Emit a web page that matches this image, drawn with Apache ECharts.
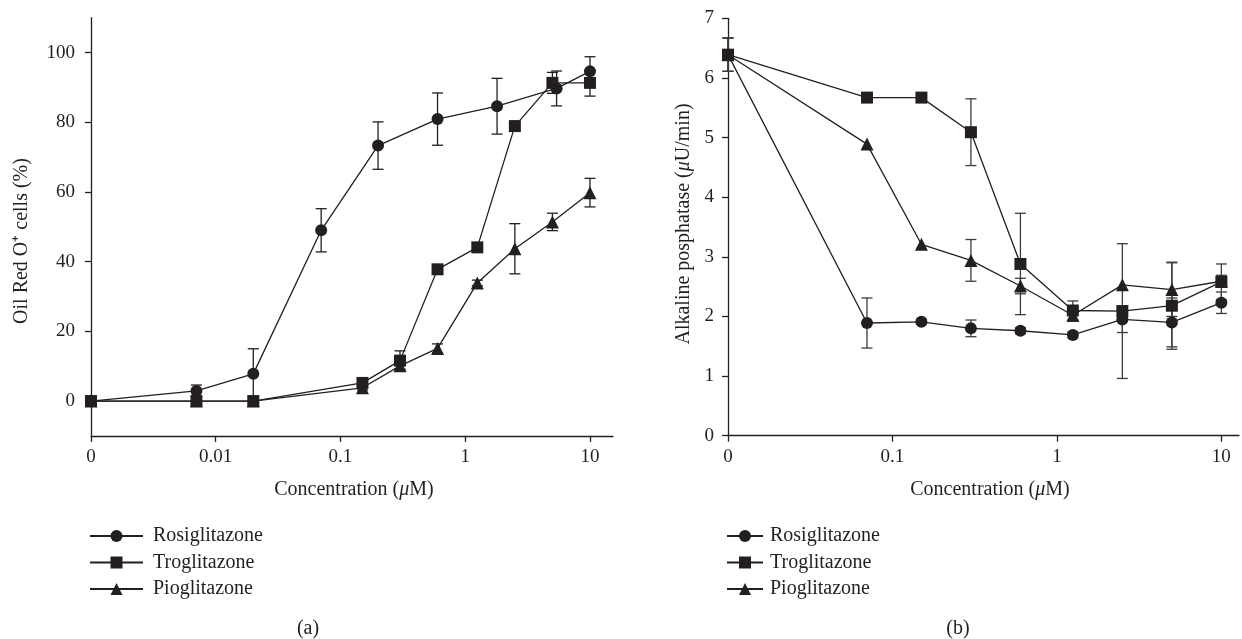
<!DOCTYPE html>
<html><head><meta charset="utf-8">
<script src="https://cdn.jsdelivr.net/npm/echarts@6/dist/echarts.min.js"></script>
<style>html,body{margin:0;padding:0;background:#fff}#c{width:1242px;height:639px}</style>
</head><body><div id="c"></div>
<script>
const drugs = ['Rosiglitazone', 'Troglitazone', 'Pioglitazone'];

// ---- Panel (a): Oil Red O+ cells (%) ----
const aRosiConc = [0, 0.007, 0.02, 0.07, 0.2, 0.6, 1.8, 5.4, 10];
const aRosiVal  = [0, 2.9, 7.8, 49, 73.3, 80.9, 84.6, 89.7, 94.6];
const aRosiErr  = [0, 1.7, 7.2, 6.2, 6.8, 7.5, 8.0, 5.0, 4.2];
const aTroConc  = [0, 0.007, 0.02, 0.15, 0.3, 0.6, 1.25, 2.5, 5, 10];
const aTroVal   = [0, 0, 0, 5.2, 11.6, 37.8, 44.1, 78.9, 91.3, 91.3];
const aTroErr   = [0, 0, 0, 0.8, 2.8, 0, 0, 0, 3.0, 3.8];
const aPioConc  = [0, 0.007, 0.02, 0.15, 0.3, 0.6, 1.25, 2.5, 5, 10];
const aPioVal   = [0, 0, 0, 3.8, 10.1, 15.1, 33.9, 43.7, 51.4, 59.8];
const aPioErr   = [0, 0, 0, 0.6, 1.0, 1.3, 0.8, 7.2, 2.5, 4.1];
const aZero = 0.001;                       // where "0" sits on the log axis
const aXTicks = [0.001, 0.01, 0.1, 1, 10];
const aXTickLabels = ['0', '0.01', '0.1', '1', '10'];
const aYTicks = [0, 20, 40, 60, 80, 100];

// ---- Panel (b): Alkaline posphatase (µU/min) ----
const bConc    = [0, 0.07, 0.15, 0.3, 0.6, 1.25, 2.5, 5, 10];
const bRosiVal = [6.39, 1.89, 1.91, 1.80, 1.76, 1.69, 1.95, 1.90, 2.23];
const bRosiErr = [0.28, 0.42, 0.04, 0.14, 0.05, 0.05, 0.22, 0.41, 0.18];
const bTroVal  = [6.39, 5.67, 5.67, 5.09, 2.88, 2.10, 2.09, 2.18, 2.58];
const bTroErr  = [0.28, 0, 0, 0.56, 0.85, 0.16, 1.13, 0.73, 0.30];
const bPioVal  = [6.39, 4.89, 3.21, 2.94, 2.51, 2.02, 2.53, 2.45, 2.59];
const bPioErr  = [0.28, 0, 0, 0.35, 0.13, 0.10, 0, 0.45, 0.10];
const bZero = 0.01;
const bXTicks = [0.01, 0.1, 1, 10];
const bXTickLabels = ['0', '0.1', '1', '10'];

const INK = '#231f20';
const FONT = '"Liberation Serif", "Times New Roman", serif';

function tickLabel(v, ticks, labels) {
  for (let i = 0; i < ticks.length; i++) {
    if (Math.abs(Math.log10(v) - Math.log10(ticks[i])) < 1e-6) return labels[i];
  }
  return '';
}
function pos(c, zero) { return c === 0 ? zero : c; }

function lineSeries(name, conc, val, zero, idx, sym, size) {
  return {
    type: 'line', name: name, xAxisIndex: idx, yAxisIndex: idx,
    data: conc.map((c, i) => [pos(c, zero), val[i]]),
    symbol: sym, symbolSize: size, showSymbol: true, showAllSymbol: true,
    lineStyle: { color: INK, width: 1.3 }, itemStyle: { color: INK },
    z: 3, animation: false, emphasis: { disabled: true }
  };
}
function errSeries(conc, val, err, zero, idx, color) {
  const data = [];
  conc.forEach((c, i) => { if (err[i] > 0) data.push([pos(c, zero), val[i] - err[i], val[i] + err[i]]); });
  return {
    type: 'custom', xAxisIndex: idx, yAxisIndex: idx, data: data, z: 2, silent: true, animation: false,
    encode: { x: 0, y: [1, 2] },
    renderItem: function (params, api) {
      const lo = api.coord([api.value(0), api.value(1)]);
      const hi = api.coord([api.value(0), api.value(2)]);
      const w = 5.5;
      const st = { stroke: color, lineWidth: 1.3 };
      return { type: 'group', children: [
        { type: 'line', shape: { x1: lo[0], y1: lo[1], x2: hi[0], y2: hi[1] }, style: st },
        { type: 'line', shape: { x1: lo[0] - w, y1: lo[1], x2: lo[0] + w, y2: lo[1] }, style: st },
        { type: 'line', shape: { x1: hi[0] - w, y1: hi[1], x2: hi[0] + w, y2: hi[1] }, style: st }
      ]};
    }
  };
}

const axisLineStyle = { color: INK, width: 1.3 };
const labelBase = { color: INK, fontFamily: FONT, fontSize: 19 };

const option = {
  backgroundColor: '#fff',
  animation: false,
  grid: [
    { left: 91, top: 17.7, width: 522, height: 418.2 },
    { left: 728, top: 18.3, width: 511, height: 417.4 }
  ],
  xAxis: [
    { type: 'log', logBase: 10, gridIndex: 0, min: aZero, max: 15.3,
      axisLine: { show: true, onZero: false, lineStyle: axisLineStyle },
      axisTick: { show: true, customValues: aXTicks, length: 6, lineStyle: axisLineStyle },
      axisLabel: Object.assign({ customValues: aXTicks, margin: 12,
        formatter: v => tickLabel(v, aXTicks, aXTickLabels) }, labelBase),
      splitLine: { show: false }, minorTick: { show: false } },
    { type: 'log', logBase: 10, gridIndex: 1, min: bZero, max: 12.8,
      axisLine: { show: true, onZero: false, lineStyle: axisLineStyle },
      axisTick: { show: true, customValues: bXTicks, length: 6, lineStyle: axisLineStyle },
      axisLabel: Object.assign({ customValues: bXTicks, margin: 12,
        formatter: v => tickLabel(v, bXTicks, bXTickLabels) }, labelBase),
      splitLine: { show: false }, minorTick: { show: false } }
  ],
  yAxis: [
    { type: 'value', gridIndex: 0, min: -10, max: 110,
      axisLine: { show: true, onZero: false, lineStyle: axisLineStyle },
      axisTick: { show: true, customValues: aYTicks, length: 6, lineStyle: axisLineStyle },
      axisLabel: Object.assign({ customValues: aYTicks, margin: 16 }, labelBase),
      splitLine: { show: false } },
    { type: 'value', gridIndex: 1, min: 0, max: 7, interval: 1,
      axisLine: { show: true, onZero: false, lineStyle: axisLineStyle },
      axisTick: { show: true, length: 6, lineStyle: axisLineStyle },
      axisLabel: Object.assign({ margin: 14 }, labelBase),
      splitLine: { show: false } }
  ],
  legend: [
    { data: drugs, orient: 'vertical', left: 89, top: 526, padding: 0, itemWidth: 53, itemHeight: 15, itemGap: 6.5,
      selectedMode: false, textStyle: { color: INK, fontFamily: FONT, fontSize: 20, padding: [0, 0, 0, 5] } },
    { data: drugs, orient: 'vertical', left: 726, top: 526, padding: 0, itemWidth: 36, itemHeight: 15, itemGap: 6.5,
      selectedMode: false, textStyle: { color: INK, fontFamily: FONT, fontSize: 20, padding: [0, 0, 0, 2] } }
  ],
  graphic: [
    { type: 'text', x: 354, y: 490, style: { text: 'Concentration ({i|μ}M)', align: 'center', verticalAlign: 'middle',
      fill: INK, font: '20px ' + FONT, rich: { i: { fontStyle: 'italic', fontFamily: FONT, fontSize: 20, fill: INK } } } },
    { type: 'text', x: 990, y: 490, style: { text: 'Concentration ({i|μ}M)', align: 'center', verticalAlign: 'middle',
      fill: INK, font: '20px ' + FONT, rich: { i: { fontStyle: 'italic', fontFamily: FONT, fontSize: 20, fill: INK } } } },
    { type: 'text', x: 22, y: 241, rotation: Math.PI / 2, style: { text: 'Oil Red O\u207A cells (%)', align: 'center', verticalAlign: 'middle',
      fill: INK, font: '20px ' + FONT } },
    { type: 'text', x: 684, y: 224, rotation: Math.PI / 2, style: { text: 'Alkaline posphatase ({i|μ}U/min)', align: 'center', verticalAlign: 'middle',
      fill: INK, font: '20px ' + FONT, rich: { i: { fontStyle: 'italic', fontFamily: FONT, fontSize: 20, fill: INK } } } },
    { type: 'text', x: 308, y: 629, style: { text: '(a)', align: 'center', verticalAlign: 'middle', fill: INK, font: '20px ' + FONT } },
    { type: 'text', x: 958, y: 629, style: { text: '(b)', align: 'center', verticalAlign: 'middle', fill: INK, font: '20px ' + FONT } }
  ],
  series: [
    errSeries(aRosiConc, aRosiVal, aRosiErr, aZero, 0, INK),
    errSeries(aTroConc, aTroVal, aTroErr, aZero, 0, INK),
    errSeries(aPioConc, aPioVal, aPioErr, aZero, 0, INK),
    errSeries(bConc, bRosiVal, bRosiErr, bZero, 1, '#3c3c3c'),
    errSeries(bConc, bTroVal, bTroErr, bZero, 1, '#3c3c3c'),
    errSeries(bConc, bPioVal, bPioErr, bZero, 1, '#3c3c3c'),
    lineSeries(drugs[0], aRosiConc, aRosiVal, aZero, 0, 'circle', 12),
    lineSeries(drugs[1], aTroConc, aTroVal, aZero, 0, 'rect', 12),
    lineSeries(drugs[2], aPioConc, aPioVal, aZero, 0, 'triangle', 13),
    lineSeries(drugs[0], bConc, bRosiVal, bZero, 1, 'circle', 12),
    lineSeries(drugs[1], bConc, bTroVal, bZero, 1, 'rect', 12),
    lineSeries(drugs[2], bConc, bPioVal, bZero, 1, 'triangle', 13)
  ]
};

const chart = echarts.init(document.getElementById('c'), null, { renderer: 'canvas' });
chart.setOption(option);
</script>
</body></html>
